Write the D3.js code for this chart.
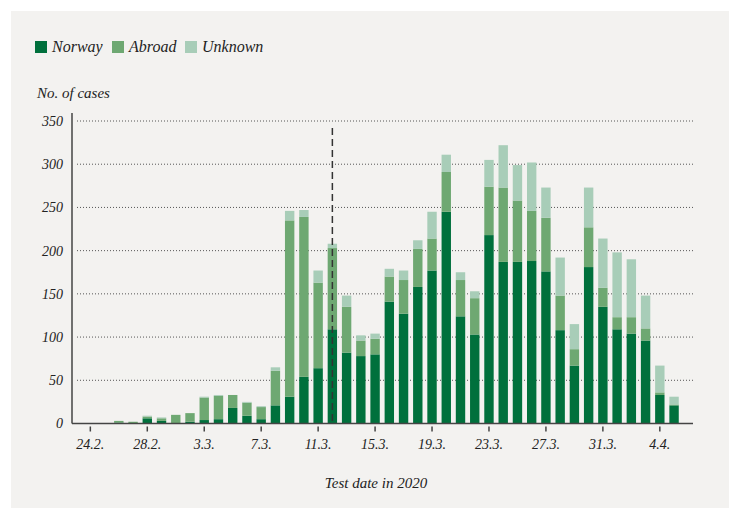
<!DOCTYPE html>
<html>
<head>
<meta charset="utf-8">
<script src="https://cdn.jsdelivr.net/npm/d3@7"></script>
<style>
  body { margin: 0; background: #fff; }
  svg text { font-family: "Liberation Serif", serif; font-style: italic; fill: #222; }
</style>
</head>
<body>
<div class="chart"></div>
<script>
// test dates (day.month.)
const dates = ["24.2.","25.2.","26.2.","27.2.","28.2.","29.2.",
  "1.3.","2.3.","3.3.","4.3.","5.3.","6.3.","7.3.","8.3.","9.3.","10.3.",
  "11.3.","12.3.","13.3.","14.3.","15.3.","16.3.","17.3.","18.3.","19.3.","20.3.",
  "21.3.","22.3.","23.3.","24.3.","25.3.","26.3.","27.3.","28.3.","29.3.","30.3.","31.3.",
  "1.4.","2.4.","3.4.","4.4.","5.4."];

const norway  = [0,0,1,0,6,3, 0,2,4,5,18,9,5,21,31,54, 64,109,82,78,80,141,127,158,177,245,
  124,103,218,187,187,188,176,108,67,181,135, 109,104,96,33,21];
const abroad  = [0,0,2,2,2,3, 10,10,26,27,15,15,14,40,204,185, 99,94,53,18,18,29,39,44,37,46,
  42,42,56,86,71,58,62,40,19,46,22, 14,19,14,3,1];
const unknown = [0,0,0,0,1,1, 0,0,1,1,0,1,1,4,11,8, 14,5,13,6,6,9,11,10,31,20,
  9,8,31,49,41,56,35,44,29,46,57, 75,67,38,31,9];

const tickDates = ["24.2.","28.2.","3.3.","7.3.","11.3.","15.3.","19.3.","23.3.","27.3.","31.3.","4.4."];
const yTicks = [0,50,100,150,200,250,300,350];
const seriesNames = ["Norway","Abroad","Unknown"];
const markerDate = "12.3.";

const width = 729, height = 508;

const rows = dates.map((d, i) => ({date: d, Norway: norway[i], Abroad: abroad[i], Unknown: unknown[i]}));
const stacked = d3.stack().keys(seriesNames)(rows);

const color = d3.scaleOrdinal()
    .domain(seriesNames)
    .range(["#00703c", "#6ea872", "#a8cdb8"]);

const svg = d3.select(".chart")
    .append("svg")
    .attr("width", width)
    .attr("height", height);

// panel background
svg.append("rect")
    .attr("x", 11).attr("y", 11)
    .attr("width", width - 11).attr("height", height - 11)
    .attr("fill", "#f3f2f0");

const xScale = d3.scaleBand()
    .domain(dates)
    .range([80.8, 683.6])
    .padding(0.34);

const yScale = d3.scaleLinear()
    .domain([0, 350])
    .range([423.5, 121]);

// gridlines
svg.append("g")
    .selectAll("line")
    .data(yTicks.filter(d => d > 0))
    .enter()
    .append("line")
    .attr("x1", 77).attr("x2", 693)
    .attr("y1", d => yScale(d)).attr("y2", d => yScale(d))
    .attr("stroke", "#555")
    .attr("stroke-width", 1)
    .attr("stroke-dasharray", "1,2");

// bars
svg.append("g")
    .selectAll("g")
    .data(stacked)
    .enter()
    .append("g")
    .attr("fill", d => color(d.key))
    .selectAll("rect")
    .data(d => d)
    .enter()
    .append("rect")
    .attr("x", d => xScale(d.data.date))
    .attr("width", xScale.bandwidth())
    .attr("y", d => yScale(d[1]))
    .attr("height", d => yScale(d[0]) - yScale(d[1]));

// dashed marker line
const mx = xScale(markerDate) + xScale.bandwidth() / 2;
svg.append("line")
    .attr("x1", mx).attr("x2", mx)
    .attr("y1", 128).attr("y2", yScale(0))
    .attr("stroke", "#333")
    .attr("stroke-width", 1.5)
    .attr("stroke-dasharray", "7,4");

// y axis
const yAxis = d3.axisLeft(yScale)
    .tickValues(yTicks)
    .tickSize(0)
    .tickPadding(9);
const yg = svg.append("g")
    .attr("transform", "translate(72,0)")
    .call(yAxis);
yg.select(".domain").remove();
yg.selectAll("text").attr("font-size", 14).style("font-family", null);
svg.append("line")
    .attr("x1", 72).attr("x2", 72)
    .attr("y1", 113).attr("y2", yScale(0))
    .attr("stroke", "#444").attr("stroke-width", 1.5);

// x axis
const xAxis = d3.axisBottom(xScale)
    .tickValues(tickDates)
    .tickSize(5)
    .tickSizeOuter(0)
    .tickPadding(8);
const xg = svg.append("g")
    .attr("transform", `translate(0, ${yScale(0) + 3})`)
    .call(xAxis);
xg.select(".domain").remove();
xg.selectAll(".tick line").attr("stroke", "#444").attr("stroke-width", 1.5);
xg.selectAll("text").attr("font-size", 14).style("font-family", null);
svg.append("line")
    .attr("x1", 72).attr("x2", 693)
    .attr("y1", yScale(0)).attr("y2", yScale(0))
    .attr("stroke", "#444").attr("stroke-width", 1.5);

// labels
svg.append("text")
    .attr("x", 37).attr("y", 98)
    .attr("font-size", 15)
    .text("No. of cases");

svg.append("text")
    .attr("x", 376).attr("y", 488)
    .attr("text-anchor", "middle")
    .attr("font-size", 15)
    .text("Test date in 2020");

// legend
const legendX = [35, 112, 185];
const legend = svg.append("g");
legend.selectAll("rect")
    .data(seriesNames)
    .enter()
    .append("rect")
    .attr("x", (d, i) => legendX[i])
    .attr("y", 41)
    .attr("width", 12).attr("height", 12)
    .attr("fill", d => color(d));
legend.selectAll("text")
    .data(seriesNames)
    .enter()
    .append("text")
    .attr("x", (d, i) => legendX[i] + 17)
    .attr("y", 52)
    .attr("font-size", 16)
    .text(d => d);
</script>
</body>
</html>
